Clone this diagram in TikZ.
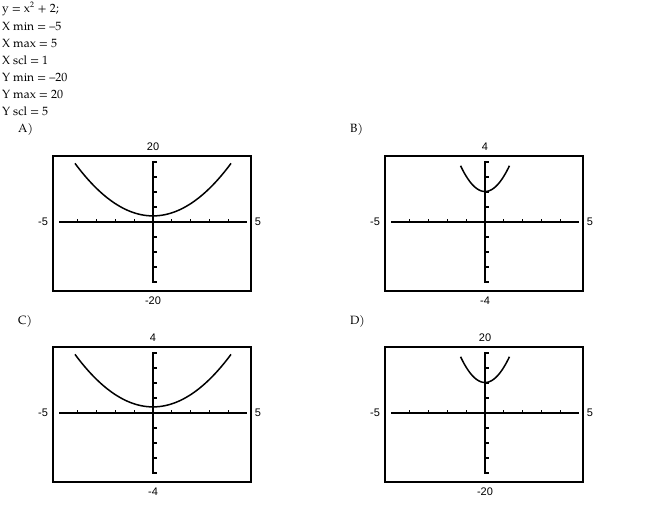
\documentclass[tikz,border=0pt]{standalone}
\usepackage{fontspec}
\setmainfont{TeX Gyre Pagella}
\newfontfamily\ax{Liberation Sans}
\begin{document}
\begin{tikzpicture}[x=1pt,y=-1pt,
  frame/.style={line width=2pt},
  axisline/.style={line width=1.6pt},
  curve/.style={line width=1.5pt},
  axlabel/.style={font=\ax\fontsize{11}{12}\selectfont,inner sep=0pt},
  txt/.style={font=\fontsize{12}{13}\selectfont,inner sep=0pt,anchor=west}]
\useasboundingbox (0,0) rectangle (650,505);
\node[txt] (t1) at (2,9) {y = x\textsuperscript{2} + 2;};
\node[txt] (t2) at (2,26) {X min = --5};
\node[txt] (t3) at (2,43) {X max = 5};
\node[txt] (t4) at (2,60) {X scl = 1};
\node[txt] (t5) at (2,77) {Y min = --20};
\node[txt] (t6) at (2,94) {Y max = 20};
\node[txt] (t7) at (2,111) {Y scl = 5};
\newcommand\panel[6]{%
\begin{scope}[shift={(#1,#2)}]
\node[txt] (l#3) at (-135,-92) {#3)};
\draw[frame] (-100,-66) rectangle (98,69);
\draw[axisline] (-94,0) -- (94,0);
\draw[axisline] (0,-61) -- (0,61);
\foreach \k in {-4,-3,-2,-1,1,2,3,4} \draw[line width=1.2pt] (\k*18.8,0) -- (\k*18.8,-3.5);
\foreach \k in {-4,-3,-2,-1,1,2,3,4} \draw[line width=1.2pt] (0,\k*15) -- (3.5,\k*15);
\draw[curve,domain=-#6:#6,samples=60] plot (\x*18.8,{-(61/#5)*(\x*\x+2)});
\node[axlabel] (top#3) at (0,-75) {#4};
\node[axlabel] (bot#3) at (0,79) {-#4};
\node[axlabel] (lft#3) at (-110,0) {-5};
\node[axlabel] (rgt#3) at (105,0) {5};
\end{scope}}
\panel{153}{222}{A}{20}{20}{4.15}
\panel{485}{222}{B}{4}{4}{1.3}
\panel{153}{413}{C}{4}{20}{4.15}
\panel{485}{413}{D}{20}{4}{1.3}
\end{tikzpicture}
\end{document}
